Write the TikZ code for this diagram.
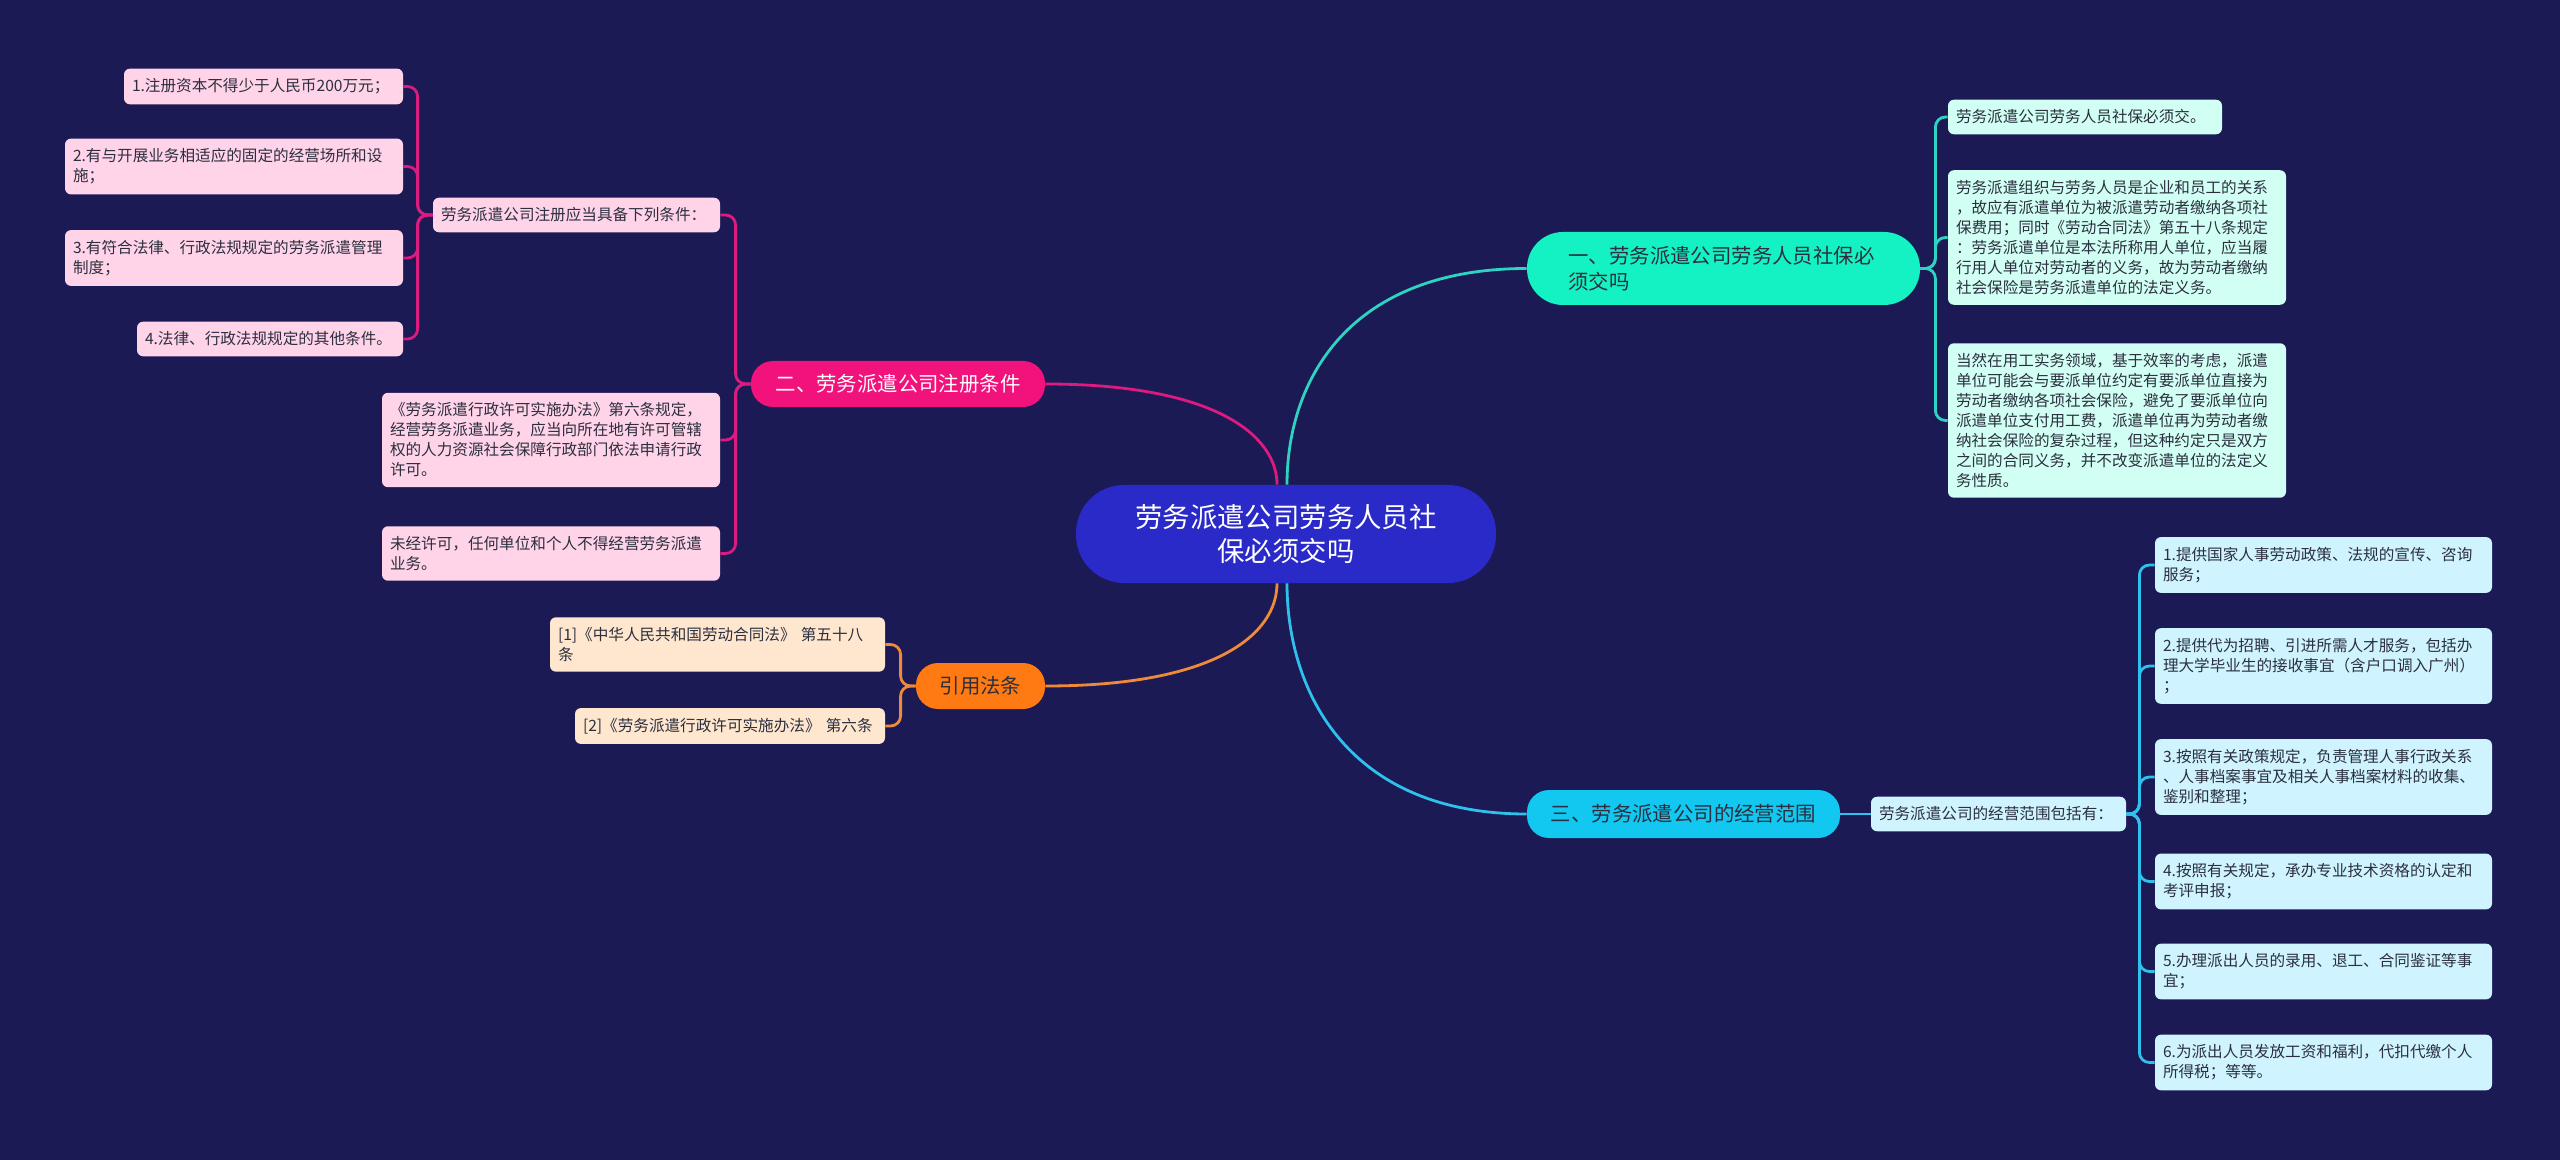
\documentclass[tikz,border=0pt]{standalone}
\usepackage{fontspec}
\newfontfamily\cjk{Noto Sans CJK SC}
\usepackage{tikz}
\usetikzlibrary{positioning}
\usepackage{xcolor}
\definecolor{bgnavy}{HTML}{1B1A55}
\definecolor{rootblue}{HTML}{2A2AC8}
\definecolor{mint}{HTML}{14F2C4}
\definecolor{rose}{HTML}{F2127C}
\definecolor{amber}{HTML}{FF7A12}
\definecolor{sky}{HTML}{12C8F0}
\definecolor{mintline}{HTML}{2ED3C2}
\definecolor{roseline}{HTML}{DC1A80}
\definecolor{amberline}{HTML}{EE8A3A}
\definecolor{skyline}{HTML}{2FC0EC}
\definecolor{mintleaf}{HTML}{D2FFF3}
\definecolor{roseleaf}{HTML}{FFD3E8}
\definecolor{amberleaf}{HTML}{FFE7CF}
\definecolor{skyleaf}{HTML}{CFF4FF}
\definecolor{ink}{HTML}{2B2F3F}

\tikzset{
  rootnode/.style={fill=rootblue, text=white, rounded corners=24pt, minimum width=210pt,
    minimum height=49pt, align=center, font=\cjk\fontsize{13.7}{17}\selectfont},
  topic/.style={rounded corners=11pt, minimum height=23pt, align=center, text=ink,
    font=\cjk\fontsize{10.2}{13}\selectfont},
  leaf/.style={rounded corners=3pt, inner xsep=4pt, inner ysep=5pt, align=left, text=ink,
    text width=#1, font=\cjk\fontsize{7.8}{10}\selectfont},
  link/.style={line width=1.4pt, rounded corners=5pt},
}

\begin{document}
\begin{tikzpicture}[x=0.5pt, y=-0.5pt]
  \fill[bgnavy] (0,0) rectangle (2560,1160);

  \node[rootnode] (root) at (1286,534) {劳务派遣公司劳务人员社\\保必须交吗};

  % topics
  \node[topic, fill=mint, rounded corners=18pt, minimum width=196.5pt, minimum height=36.5pt,
    text width=155pt, align=left] (tshebao) at (1723.5,268.5) {一、劳务派遣公司劳务人员社保必\\须交吗};
  \node[topic, fill=rose, text=white, minimum width=147pt] (tzhuce) at (898,384) {二、劳务派遣公司注册条件};
  \node[topic, fill=amber, minimum width=64.5pt] (tfatiao) at (980.5,686) {引用法条};
  \node[topic, fill=sky, minimum width=156.5pt, minimum height=24pt] (tfanwei) at (1683.5,814) {三、劳务派遣公司的经营范围};

  % branch one
  \node[leaf=129pt, fill=mintleaf] (sb1) at (2085,117) {劳务派遣公司劳务人员社保必须交。};
  \node[leaf=161pt, fill=mintleaf] (sb2) at (2117,237.5) {劳务派遣组织与劳务人员是企业和员工的关系\\，故应有派遣单位为被派遣劳动者缴纳各项社\\保费用；同时《劳动合同法》第五十八条规定\\：劳务派遣单位是本法所称用人单位，应当履\\行用人单位对劳动者的义务，故为劳动者缴纳\\社会保险是劳务派遣单位的法定义务。};
  \node[leaf=161pt, fill=mintleaf] (sb3) at (2117,420.5) {当然在用工实务领域，基于效率的考虑，派遣\\单位可能会与要派单位约定有要派单位直接为\\劳动者缴纳各项社会保险，避免了要派单位向\\派遣单位支付用工费，派遣单位再为劳动者缴\\纳社会保险的复杂过程，但这种约定只是双方\\之间的合同义务，并不改变派遣单位的法定义\\务性质。};

  % branch two
  \node[leaf=135.5pt, fill=roseleaf] (zc1) at (576.5,215) {劳务派遣公司注册应当具备下列条件：};
  \node[leaf=161pt, fill=roseleaf] (zc2) at (551,440) {《劳务派遣行政许可实施办法》第六条规定，\\经营劳务派遣业务，应当向所在地有许可管辖\\权的人力资源社会保障行政部门依法申请行政\\许可。};
  \node[leaf=161pt, fill=roseleaf] (zc3) at (551,553.5) {未经许可，任何单位和个人不得经营劳务派遣\\业务。};
  \node[leaf=131.5pt, fill=roseleaf] (tj1) at (263.5,86.5) {1.注册资本不得少于人民币200万元；};
  \node[leaf=161pt, fill=roseleaf] (tj2) at (234,166.5) {2.有与开展业务相适应的固定的经营场所和设\\施；};
  \node[leaf=161pt, fill=roseleaf] (tj3) at (234,258) {3.有符合法律、行政法规规定的劳务派遣管理\\制度；};
  \node[leaf=125pt, fill=roseleaf] (tj4) at (270,339) {4.法律、行政法规规定的其他条件。};

  % branch three
  \node[leaf=159.5pt, fill=amberleaf] (ft1) at (717.5,644.5) {[1]《中华人民共和国劳动合同法》 第五十八\\条};
  \node[leaf=147pt, fill=amberleaf] (ft2) at (730,726) {[2]《劳务派遣行政许可实施办法》 第六条};

  % branch four
  \node[leaf=119.5pt, fill=skyleaf] (fw0) at (1998.5,814) {劳务派遣公司的经营范围包括有：};
  \node[leaf=160.5pt, fill=skyleaf] (fw1) at (2323.5,565) {1.提供国家人事劳动政策、法规的宣传、咨询\\服务；};
  \node[leaf=160.5pt, fill=skyleaf] (fw2) at (2323.5,666) {2.提供代为招聘、引进所需人才服务，包括办\\理大学毕业生的接收事宜（含户口调入广州）\\；};
  \node[leaf=160.5pt, fill=skyleaf] (fw3) at (2323.5,777) {3.按照有关政策规定，负责管理人事行政关系\\、人事档案事宜及相关人事档案材料的收集、\\鉴别和整理；};
  \node[leaf=160.5pt, fill=skyleaf] (fw4) at (2323.5,881.5) {4.按照有关规定，承办专业技术资格的认定和\\考评申报；};
  \node[leaf=160.5pt, fill=skyleaf] (fw5) at (2323.5,971.5) {5.办理派出人员的录用、退工、合同鉴证等事\\宜；};
  \node[leaf=160.5pt, fill=skyleaf] (fw6) at (2323.5,1062.5) {6.为派出人员发放工资和福利，代扣代缴个人\\所得税；等等。};

  % connectors
  \draw[link, mintline] ([xshift=.5pt]root.north) .. controls +(0,-105) and +(-177,0) .. (tshebao.west);
  \draw[link, roseline] ([xshift=-4.5pt]root.north) .. controls +(0,-48) and +(172,0) .. (tzhuce.east);
  \draw[link, amberline] ([xshift=-4.5pt]root.south) .. controls +(0,50) and +(172,0) .. (tfatiao.east);
  \draw[link, skyline] ([xshift=.5pt]root.south) .. controls +(0,110) and +(-177,0) .. (tfanwei.west);

  \foreach \n in {sb1,sb2,sb3}
    \draw[link, mintline] (tshebao.east) -- ++(15,0) |- (\n.west);
  \foreach \n in {zc1,zc2,zc3}
    \draw[link, roseline] (tzhuce.west) -- ++(-15,0) |- (\n.east);
  \foreach \n in {tj1,tj2,tj3,tj4}
    \draw[link, roseline] (zc1.west) -- ++(-15,0) |- (\n.east);
  \foreach \n in {ft1,ft2}
    \draw[link, amberline] (tfatiao.west) -- ++(-15,0) |- (\n.east);
  \draw[link, skyline] (tfanwei.east) -- (fw0.west);
  \foreach \n in {fw1,fw2,fw3,fw4,fw5,fw6}
    \draw[link, skyline] (fw0.east) -- ++(13,0) |- (\n.west);
\end{tikzpicture}
\end{document}
